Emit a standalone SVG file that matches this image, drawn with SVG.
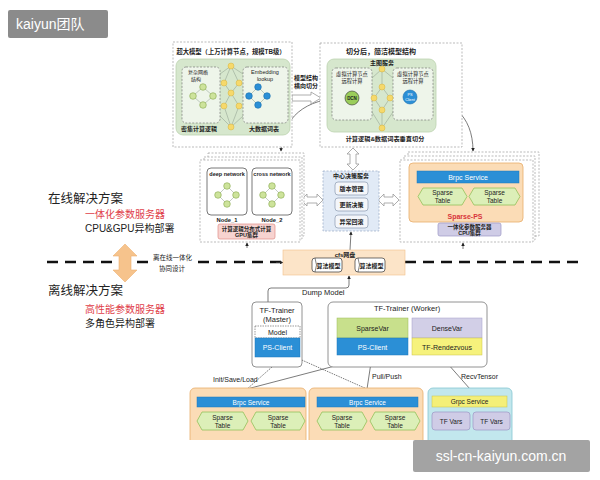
<svg xmlns="http://www.w3.org/2000/svg" width="600" height="480" viewBox="0 0 600 480">
<defs>
<style>
text{font-family:"Liberation Sans","Noto Sans CJK SC",sans-serif;fill:#222}
.b{font-weight:bold}
.c{text-anchor:middle}
.w{fill:#fff}
.dash{fill:#fff;stroke:#aaa;stroke-width:0.8;stroke-dasharray:2 1.5}
.dashin{fill:#eef5ea;stroke:#666;stroke-width:0.6;stroke-dasharray:2 1.5}
.grn{fill:#d6e7cd;stroke:#bcd3b0;stroke-width:0.8}
.blue{fill:#2b8fd6;stroke:#1d78ba;stroke-width:0.5}
.orange{fill:#fbdcb6;stroke:#e9ad6b;stroke-width:0.8}
.hex{fill:#dcefb8;stroke:#93c15a;stroke-width:0.8}
.purple{fill:#cfcce6;stroke:#9b96c4;stroke-width:0.7}
.hollow{fill:#fff;stroke:#999;stroke-width:0.8}
.ln{fill:none;stroke:#444;stroke-width:0.7}
.thin{fill:none;stroke:#8a9a8a;stroke-width:0.5}
.gc{fill:#cde39b;stroke:#86a84e;stroke-width:0.6}
.yc{fill:#f6d96b;stroke:#d4b240;stroke-width:0.5}
.bc{fill:#2b8fd6;stroke:#1a6fae;stroke-width:0.6}
.item{fill:#f4f6fa;stroke:#8a9ab0;stroke-width:0.7}
.red{fill:#e0404a}
</style>
<marker id="ah" viewBox="0 0 6 6" refX="5" refY="3" markerWidth="5" markerHeight="5" orient="auto"><path d="M0,0 L6,3 L0,6z" fill="#222"/></marker>
<marker id="sa" viewBox="0 0 6 6" refX="5" refY="3" markerWidth="3" markerHeight="3" orient="auto"><path d="M0,0 L6,3 L0,6z" fill="#8a9a8a"/></marker>
<clipPath id="clipB"><rect x="0" y="0" width="600" height="440"/></clipPath>
</defs>
<rect x="0" y="0" width="600" height="480" fill="#fff"/>

<!-- left descriptive texts -->
<g id="labels-left">
<text x="48" y="203" font-size="12.5">在线解决方案</text>
<text x="85" y="218" font-size="10" class="red">一体化参数服务器</text>
<text x="85" y="232" font-size="10">CPU&amp;GPU异构部署</text>
<text x="48" y="295" font-size="12.5">离线解决方案</text>
<text x="85" y="313" font-size="10" class="red">高性能参数服务器</text>
<text x="85" y="327" font-size="10">多角色异构部署</text>
<text x="153" y="260" font-size="6.5">离在线一体化</text>
<text x="159" y="271" font-size="6.5">协同设计</text>
</g>

<!-- connectors -->
<g id="connectors">
<path d="M47,262 H150 M198,262 H281" stroke="#111" stroke-width="2.5" stroke-dasharray="11 7" fill="none"/>
<path d="M276,262.5 L283,262.5" class="ln" marker-end="url(#ah)"/>
<path d="M405,262 H580" stroke="#111" stroke-width="2.5" stroke-dasharray="11 7" fill="none"/>
<path d="M345,98 C305,98 282,118 281,151" class="ln" marker-end="url(#ah)"/>
<path d="M417,97 C450,97 473,115 473,151" class="ln" marker-end="url(#ah)"/>
<path d="M350,250 L351,232" class="ln" marker-end="url(#ah)"/>
<path d="M247,248 L247,243" class="ln" marker-end="url(#ah)"/>
<path d="M463,249 L463,243" class="ln" marker-end="url(#ah)"/>
<path d="M268,302 V291 Q268,288 271,288 H346 Q349,288 349,285 V276" class="ln" marker-end="url(#ah)"/>
<path d="M272,367 L247,389" class="ln" stroke-dasharray="1.5 1"/>
<path d="M373,356 L247,389" class="ln"/>
<path d="M295,357 L367,389" class="ln" stroke-dasharray="1.5 1"/>
<path d="M372,356 L367,389" class="ln"/>
<path d="M440,355 L470,389" class="ln"/>
<text x="213" y="382" font-size="7">Init/Save/Load</text>
<text x="372" y="379" font-size="7">Pull/Push</text>
<text x="461" y="379" font-size="7">RecvTensor</text>
<text x="302" y="295" font-size="7.5">Dump Model</text>
<!-- hollow arrows -->
<polygon class="hollow" points="292,95 311,95 311,92 321,98 311,104 311,101 292,101"/>
<text x="306" y="80" font-size="6" class="b c">模型结构</text>
<text x="306" y="88" font-size="6" class="b c">横向切分</text>
<polygon class="hollow" points="301,200 307,194 307,197 317,197 317,194 323,200 317,206 317,203 307,203 307,206"/>
<polygon class="hollow" points="378,200 384,194 384,197 393,197 393,194 399,200 393,206 393,203 384,203 384,206"/>
<polygon class="hollow" points="353,148 359,154 356,154 356,164 359,164 353,170 347,164 350,164 350,154 347,154"/>
<polygon points="125,244 137,256 131,256 131,270 137,270 125,282 113,270 119,270 119,256 113,256" fill="#f6c38c" stroke="#eeb070" stroke-width="0.6"/>
</g>

<!-- top left: big model -->
<g id="big-model">
<rect class="dash" x="173" y="42" width="119" height="105"/>
<text class="b c" x="231" y="54" font-size="6.3">超大模型（上万计算节点，规模TB级）</text>
<rect class="grn" x="176" y="59" width="114" height="76" rx="7"/>
<rect class="dashin" x="182" y="67" width="38" height="56" rx="4"/>
<rect class="dashin" x="243" y="67" width="45" height="56" rx="4"/>
<text x="188" y="74" font-size="5">复杂网络</text>
<text x="191" y="81" font-size="5">结构</text>
<path class="thin" d="M203,87 L193,96 L203,105 L213,96 Z"/>
<circle class="gc" cx="203" cy="87" r="3.3"/><circle class="gc" cx="193" cy="96" r="3.3"/><circle class="gc" cx="213" cy="96" r="3.3"/><circle class="gc" cx="203" cy="105" r="3.3"/>
<text class="b c" x="199" y="131" font-size="6">密集计算逻辑</text>
<text class="c" x="265" y="74" font-size="5.5">Embedding</text>
<text class="c" x="265" y="81" font-size="5.5">lookup</text>
<path class="thin" d="M258,87 L249,96 L258,105 L267,96 Z"/>
<circle class="bc" cx="258" cy="87" r="3.3"/><circle class="bc" cx="249" cy="96" r="3.3"/><circle class="bc" cx="267" cy="96" r="3.3"/><circle class="bc" cx="258" cy="105" r="3.3"/>
<text class="b c" x="264" y="131" font-size="6">大数据词表</text>
<path class="thin" d="M231,66 L224,83 L231,93 L224,106 L231,127 M231,66 L239,83 L231,93 L239,106 L231,127 M231,66 L220,74 M231,66 L243,74 M220,116 L231,127 M243,116 L231,127"/>
<circle class="yc" cx="231" cy="66" r="3"/><circle class="yc" cx="224" cy="83" r="3"/><circle class="yc" cx="239" cy="83" r="3"/><circle class="yc" cx="231" cy="93" r="3"/><circle class="yc" cx="224" cy="106" r="3"/><circle class="yc" cx="239" cy="106" r="3"/><circle class="yc" cx="231" cy="127" r="3"/>
</g>

<!-- top right: split model -->
<g id="split-model">
<rect class="dash" x="320" y="43" width="142" height="104"/>
<text class="b c" x="381" y="54" font-size="7">切分后，简洁模型结构</text>
<rect class="grn" x="327" y="59" width="109" height="73" rx="7"/>
<text class="b c" x="382" y="65" font-size="6">主图服务</text>
<rect class="dashin" x="332" y="68" width="40" height="52" rx="4"/>
<rect class="dashin" x="393" y="68" width="40" height="52" rx="4"/>
<text class="c" x="352" y="76" font-size="5.3">虚拟计算节点</text>
<text class="c" x="352" y="83" font-size="5.3">远程计算</text>
<text class="c" x="413" y="76" font-size="5.3">虚拟计算节点</text>
<text class="c" x="413" y="83" font-size="5.3">远程计算</text>
<path class="thin" d="M382,69 L382,87 L374,98 L382,110 L382,128 M382,87 L390,98 L382,110 M382,69 L372,78 M382,69 L393,78 M372,112 L382,128 M393,112 L382,128"/>
<circle class="yc" cx="382" cy="69" r="3"/><circle class="yc" cx="382" cy="87" r="3"/><circle class="yc" cx="374" cy="98" r="3"/><circle class="yc" cx="390" cy="98" r="3"/><circle class="yc" cx="382" cy="110" r="3"/><circle class="yc" cx="382" cy="128" r="3"/>
<circle cx="352" cy="98" r="7" fill="#9acd5a" stroke="#333" stroke-width="0.6"/>
<text class="b c" x="352" y="100" font-size="4.5">DCN</text>
<circle cx="410" cy="97" r="7" fill="#2b8fd6" stroke="#1a6fae" stroke-width="0.6"/>
<text class="c w" x="410" y="96" font-size="3.8">PS</text>
<text class="c w" x="410" y="100.5" font-size="3.8">Client</text>
<text class="b c" x="385" y="141" font-size="6.2">计算逻辑&amp;数据词表垂直切分</text>
</g>

<!-- middle left: GPU cluster -->
<g id="gpu-cluster">
<rect class="dash" x="208" y="153" width="96" height="83"/>
<rect class="dash" x="204" y="157" width="98" height="82"/>
<rect class="dash" x="200" y="160" width="100" height="82"/>
<rect x="207" y="168" width="40" height="47" rx="4" fill="#fff" stroke="#555" stroke-width="0.8"/>
<rect x="252" y="168" width="40" height="47" rx="4" fill="#fff" stroke="#555" stroke-width="0.8"/>
<text class="b c" x="227" y="176" font-size="5.5">deep network</text>
<text class="b c" x="272" y="176" font-size="5.5">cross network</text>
<path class="thin" d="M227,186 L218,195 L227,204 L236,195 Z M272,186 L263,195 L272,204 L281,195 Z"/>
<circle class="gc" cx="227" cy="186" r="3.3"/><circle class="gc" cx="218" cy="195" r="3.3"/><circle class="gc" cx="236" cy="195" r="3.3"/><circle class="gc" cx="227" cy="204" r="3.3"/>
<circle class="gc" cx="272" cy="186" r="3.3"/><circle class="gc" cx="263" cy="195" r="3.3"/><circle class="gc" cx="281" cy="195" r="3.3"/><circle class="gc" cx="272" cy="204" r="3.3"/>
<text class="b c" x="227" y="221.5" font-size="5.8">Node_1</text>
<text class="b c" x="272" y="221.5" font-size="5.8">Node_2</text>
<rect x="218" y="224" width="57" height="15" rx="2" fill="#f7d3d0" stroke="#e08c86" stroke-width="0.7"/>
<text class="b c" x="246.5" y="230.5" font-size="5.5">计算逻辑分布式计算</text>
<text class="b c" x="246.5" y="237" font-size="5.5">GPU集群</text>
</g>

<!-- center: decision service -->
<g id="decision-service">
<rect x="323" y="171" width="56" height="60" fill="#e1eaf6" stroke="#9aabc4" stroke-width="0.7" stroke-dasharray="2 1.5"/>
<text class="b c" x="351" y="178" font-size="6">中心决策服务</text>
<rect class="item" x="335" y="182" width="33" height="13" rx="3"/>
<rect class="item" x="335" y="198" width="33" height="13" rx="3"/>
<rect class="item" x="335" y="215" width="33" height="13" rx="3"/>
<text class="b c" x="351.5" y="190.5" font-size="6">版本管理</text>
<text class="b c" x="351.5" y="206.5" font-size="6">更新决策</text>
<text class="b c" x="351.5" y="223.5" font-size="6">异常回滚</text>
</g>

<!-- middle right: CPU cluster sparse ps -->
<g id="cpu-cluster">
<rect class="dash" x="408" y="152" width="131" height="84"/>
<rect class="dash" x="404" y="156" width="131" height="84"/>
<rect class="dash" x="400" y="160" width="133" height="82"/>
<rect class="orange" x="409" y="163" width="114" height="59" rx="4"/>
<rect class="blue" x="417" y="171" width="102" height="12"/>
<text class="c w" x="468" y="179.5" font-size="7">Brpc Service</text>
<polygon class="hex" points="423,188 462,188 467,196.5 462,205 423,205 418,196.5"/>
<polygon class="hex" points="474,188 515,188 520,196.5 515,205 474,205 469,196.5"/>
<text class="c" x="442.5" y="195" font-size="6.5">Sparse</text>
<text class="c" x="442.5" y="202.5" font-size="6.5">Table</text>
<text class="c" x="494.5" y="195" font-size="6.5">Sparse</text>
<text class="c" x="494.5" y="202.5" font-size="6.5">Table</text>
<text class="b c" x="465" y="219" font-size="7" fill="#d8343a" style="fill:#d8343a">Sparse-PS</text>
<rect class="purple" x="438" y="223" width="63" height="13" rx="2"/>
<text class="b c" x="469.5" y="229" font-size="5.5">一体化参数服务器</text>
<text class="b c" x="469.5" y="235" font-size="5.5">CPU集群</text>
</g>

<!-- cfs -->
<g id="cfs">
<rect x="283" y="250" width="122" height="25" fill="#fce4c8" stroke="#f0c08a" stroke-width="0.6"/>
<text class="b c" x="345" y="256.5" font-size="6">cfs网盘</text>
<rect x="312" y="258" width="30" height="14" rx="3" fill="#fff" stroke="#333" stroke-width="0.7"/>
<path d="M315,258 Q318,265 315,272" fill="none" stroke="#333" stroke-width="0.6"/>
<text class="b c" x="328.5" y="267.5" font-size="6">算法模型</text>
<rect x="355" y="258" width="30" height="14" rx="3" fill="#fff" stroke="#333" stroke-width="0.7"/>
<path d="M358,258 Q361,265 358,272" fill="none" stroke="#333" stroke-width="0.6"/>
<text class="b c" x="371.5" y="267.5" font-size="6">算法模型</text>
</g>

<!-- TF-Trainer master -->
<g id="trainer-master">
<rect x="252" y="302" width="50" height="65" rx="4" fill="#fff" stroke="#777" stroke-width="0.8"/>
<text class="c" x="277" y="313" font-size="7.5">TF-Trainer</text>
<text class="c" x="277" y="322" font-size="7.5">(Master)</text>
<rect x="255" y="326" width="45" height="12" fill="#fff" stroke="#555" stroke-width="0.6" stroke-dasharray="1.5 1"/>
<text class="c" x="277.5" y="335" font-size="7">Model</text>
<rect class="blue" x="255" y="338" width="45" height="19"/>
<text class="c w" x="277.5" y="350" font-size="7">PS-Client</text>
</g>

<!-- TF-Trainer worker -->
<g id="trainer-worker">
<rect x="328" y="302" width="159" height="65" rx="5" fill="#fff" stroke="#777" stroke-width="0.8"/>
<text class="c" x="407" y="311" font-size="7.5">TF-Trainer (Worker)</text>
<rect x="337" y="318" width="71" height="20" fill="#c8e08c" stroke="#9aba5a" stroke-width="0.5"/>
<text class="c" x="372.5" y="331" font-size="7">SparseVar</text>
<rect class="blue" x="337" y="338" width="71" height="17"/>
<text class="c w" x="372.5" y="349.5" font-size="7">PS-Client</text>
<rect x="412" y="318" width="70" height="20" fill="#d2cfe7" stroke="#a29dc8" stroke-width="0.5"/>
<text class="c" x="447" y="331" font-size="7">DenseVar</text>
<rect x="412" y="338" width="70" height="17" fill="#f6f27c" stroke="#c9c24a" stroke-width="0.5"/>
<text class="c" x="447" y="349.5" font-size="7">TF-Rendezvous</text>
</g>

<!-- bottom servers -->
<g clip-path="url(#clipB)">
<g id="sparse-ps-1">
<rect class="orange" x="190" y="388" width="116" height="70" rx="5"/>
<rect class="blue" x="197" y="397" width="108" height="10"/>
<text class="c w" x="251" y="404.5" font-size="6.5">Brpc Service</text>
<polygon class="hex" points="202,412 243,412 248,421 243,430 202,430 197,421"/>
<polygon class="hex" points="256,412 300,412 305,421 300,430 256,430 251,421"/>
<text class="c" x="222.5" y="419.5" font-size="6.5">Sparse</text>
<text class="c" x="222.5" y="427.5" font-size="6.5">Table</text>
<text class="c" x="278" y="419.5" font-size="6.5">Sparse</text>
<text class="c" x="278" y="427.5" font-size="6.5">Table</text>
<text class="b c" x="248" y="445" font-size="7" style="fill:#d8343a">Sparse-PS</text>
</g>
<g id="sparse-ps-2">
<rect class="orange" x="309" y="388" width="114" height="70" rx="5"/>
<rect class="blue" x="317" y="397" width="101" height="10"/>
<text class="c w" x="367.5" y="404.5" font-size="6.5">Brpc Service</text>
<polygon class="hex" points="322,412 362,412 367,421 362,430 322,430 317,421"/>
<polygon class="hex" points="375,412 415,412 420,421 415,430 375,430 370,421"/>
<text class="c" x="342" y="419.5" font-size="6.5">Sparse</text>
<text class="c" x="342" y="427.5" font-size="6.5">Table</text>
<text class="c" x="395" y="419.5" font-size="6.5">Sparse</text>
<text class="c" x="395" y="427.5" font-size="6.5">Table</text>
<text class="b c" x="366" y="445" font-size="7" style="fill:#d8343a">Sparse-PS</text>
</g>
<g id="tf-ps">
<rect x="428" y="388" width="84" height="70" rx="5" fill="#c2e7ed" stroke="#86c6d2" stroke-width="0.8"/>
<rect x="432" y="396" width="75" height="11" fill="#f4ef78" stroke="#c9c24a" stroke-width="0.5"/>
<text class="c" x="469.5" y="404" font-size="6.5">Grpc Service</text>
<rect class="purple" x="432" y="412" width="38" height="18" rx="3"/>
<rect class="purple" x="473" y="412" width="37" height="18" rx="3"/>
<text class="c" x="451" y="423.5" font-size="6.5">TF Vars</text>
<text class="c" x="491.5" y="423.5" font-size="6.5">TF Vars</text>
<text class="b c" x="470" y="445" font-size="7">TF-PS</text>
</g>
</g>

<!-- overlays -->
<g id="badge">
<rect x="8" y="10" width="100" height="28" rx="2" fill="#6e6e6e" fill-opacity="0.8"/>
<text class="w" x="16" y="29" font-size="14">kaiyun团队</text>
</g>
<g id="watermark">
<rect x="413" y="440" width="177" height="32" rx="2" fill="#8c8c8c" fill-opacity="0.8"/>
<text class="c w" x="501" y="461" font-size="14">ssl-cn-kaiyun.com.cn</text>
</g>
</svg>
